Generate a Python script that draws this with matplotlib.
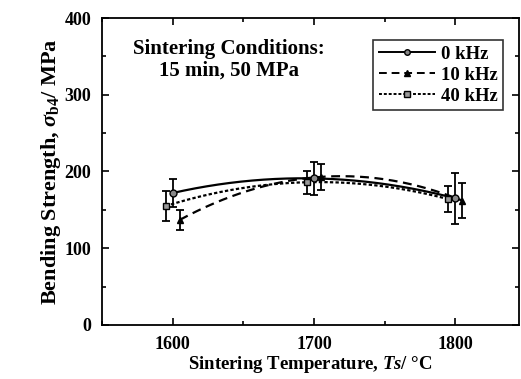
import numpy as np
import matplotlib
matplotlib.use("Agg")
import matplotlib.pyplot as plt
from matplotlib.ticker import MultipleLocator

plt.rcParams["font.family"] = ["Liberation Serif", "DejaVu Serif"]
plt.rcParams["mathtext.fontset"] = "custom"
plt.rcParams["mathtext.rm"] = "Liberation Serif:bold"
plt.rcParams["mathtext.it"] = "Liberation Serif:italic:bold"
plt.rcParams["mathtext.bf"] = "Liberation Serif:bold"

# ===== data =====
temps = [1600, 1700, 1800]
labels = ["0 kHz", "10 kHz", "40 kHz"]
strength_0k = [172, 191, 165]
err_0k = [18, 22, 33]
strength_10k = [137, 193, 162]
err_10k = [13, 17, 23]
strength_40k = [155, 186, 164]
err_40k = [19, 15, 17]

offsets = [0, 5, -5]
series = [strength_0k, strength_10k, strength_40k]
errors = [err_0k, err_10k, err_40k]
markers = ["o", "^", "s"]
mfc = ["#888888", "black", "#999999"]
styles = ["-", (0, (4, 2.5)), (0, (1.5, 1))]

fig = plt.figure(figsize=(5.21, 3.79), dpi=100)
ax = fig.add_axes([0.196, 0.1425, 0.8, 0.81])

for y, e, off, m, fc, ls, lab in zip(series, errors, offsets, markers, mfc, styles, labels):
    x = np.array(temps) + off
    coef = np.polyfit(x, y, 2)
    xs = np.linspace(x[0], x[-1], 200)
    ax.plot(xs, np.polyval(coef, xs), color="black", lw=1.6, linestyle=ls, zorder=2)
    ax.errorbar(x, y, yerr=e, fmt="none", ecolor="black", elinewidth=1.3,
                capsize=3, capthick=1.3, zorder=3)
    ax.plot(x, y, marker=m, ms=5, mfc=fc, mec="black", mew=1, linestyle="none", zorder=4)
    ax.plot([], [], color="black", lw=1.4, linestyle=ls, marker=m, ms=4,
            mfc=fc, mec="black", label=lab)

ax.set_xlim(1550, 1845)
ax.set_ylim(0, 400)
ax.xaxis.set_major_locator(MultipleLocator(100))
ax.xaxis.set_minor_locator(MultipleLocator(50))
ax.yaxis.set_major_locator(MultipleLocator(100))
ax.yaxis.set_minor_locator(MultipleLocator(50))
ax.tick_params(which="both", direction="in", top=True, right=True, width=1.2)
ax.tick_params(which="major", length=5, labelsize=13, pad=8)
ax.tick_params(which="minor", length=3)
for lbl in ax.get_xticklabels() + ax.get_yticklabels():
    lbl.set_fontweight("bold")
for sp in ax.spines.values():
    sp.set_linewidth(1.3)

ax.set_xlabel("Sintering Temperature, $\\mathit{Ts}$/ \u00b0C", fontsize=13.5, fontweight="bold", labelpad=1)
ax.set_ylabel("Bending Strength, $\\mathit{\\sigma}_{\\mathrm{b4}}$/ MPa", fontsize=16,
              fontweight="bold", labelpad=1)

ax.text(0.305, 0.93, "Sintering Conditions:\n15 min, 50 MPa", transform=ax.transAxes,
        ha="center", va="top", fontsize=15, fontweight="bold", linespacing=1.1)

leg = ax.legend(loc="upper right", bbox_to_anchor=(0.962, 0.928), frameon=True, fancybox=False,
                edgecolor="black", prop={"weight": "bold", "size": 13.5}, handlelength=3.0,
                handletextpad=0.3, labelspacing=0.2, borderpad=0.3, borderaxespad=0)
leg.get_frame().set_linewidth(1.2)

fig.savefig("out.png", dpi=100)
